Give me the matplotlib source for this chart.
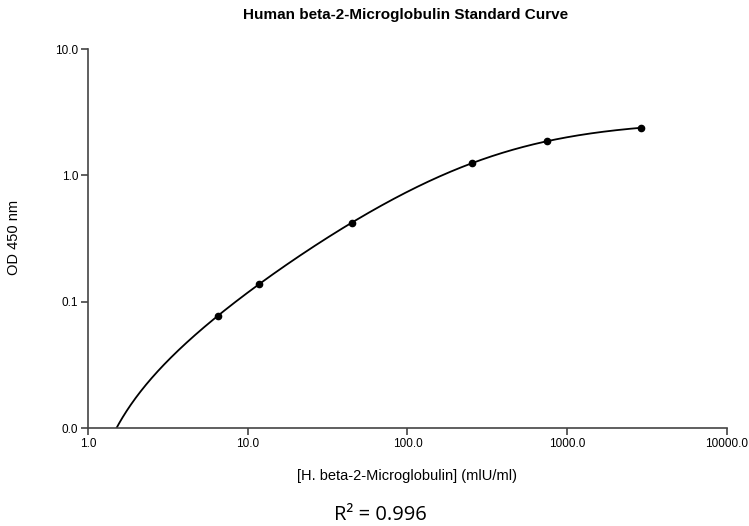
import numpy as np
import matplotlib
matplotlib.use("Agg")
import matplotlib.pyplot as plt

# standards
conc = [6.5, 11.7, 45.0, 253.0, 745.0, 2890.0]
od = [0.077, 0.138, 0.42, 1.25, 1.87, 2.37]

x_ticks = [1, 10, 100, 1000, 10000]
x_labels = ["1.0", "10.0", "100.0", "1000.0", "10000.0"]
y_ticks = [0.01, 0.1, 1, 10]
y_labels = ["0.0", "0.1", "1.0", "10.0"]

title = "Human beta-2-Microglobulin Standard Curve"
xlab = "[H. beta-2-Microglobulin] (mlU/ml)"
ylab = "OD 450 nm"
r2_text = "R² = 0.996"


def four_pl(x, p):
    a, b, c, d = p
    return d + (a - d) / (1.0 + (x / c) ** b)


def fit_4pl(x, y, p0):
    # small levenberg-marquardt, no scipy here; relative residuals
    p = np.array(p0, dtype=float)
    lam = 1e-2
    def res(p):
        return (four_pl(x, p) - y) / y
    for _ in range(3000):
        r = res(p)
        J = np.zeros((len(x), 4))
        for k in range(4):
            dp = np.zeros(4)
            dp[k] = 1e-6 * max(abs(p[k]), 1e-3)
            J[:, k] = (res(p + dp) - r) / dp[k]
        A = J.T @ J
        g = J.T @ r
        step = np.linalg.solve(A + lam * np.diag(np.diag(A)) + 1e-12 * np.eye(4), -g)
        pn = p + step
        if pn[2] > 0 and np.sum(res(pn) ** 2) < np.sum(r ** 2):
            p = pn
            lam *= 0.5
        else:
            lam *= 4
    return p


xd = np.array(conc)
yd = np.array(od)
params = fit_4pl(xd, yd, [0.0, 1.0, 300.0, 3.0])

xc = np.logspace(0, np.log10(xd.max()), 800)
yc = four_pl(xc, params)

fig = plt.figure(figsize=(7.49, 5.26), dpi=100)
ax = fig.add_axes([0.1175, 0.1863, 0.853, 0.7205])

ax.plot(xc, yc, color="black", lw=1.3)
ax.plot(xd, yd, "o", color="black", ms=4.5)

ax.set_xscale("log")
ax.set_yscale("log")
ax.set_xlim(1, 10000)
ax.set_ylim(0.01, 10)
ax.set_xticks(x_ticks)
ax.set_xticklabels(x_labels)
ax.set_yticks(y_ticks)
ax.set_yticklabels(y_labels)
ax.minorticks_off()

for s in ["top", "right"]:
    ax.spines[s].set_visible(False)
for s in ["left", "bottom"]:
    ax.spines[s].set_color("#444444")
    ax.spines[s].set_linewidth(1.2)
ax.tick_params(colors="#444444", labelcolor="black", length=5, width=1.2,
               labelsize=8.5, pad=2)
for lbl in ax.get_xticklabels() + ax.get_yticklabels():
    lbl.set_family("Liberation Sans")

fig.text(405.5 / 749, 1 - 19.5 / 526, title, fontsize=11, fontweight="bold",
         family="Liberation Sans", ha="center", va="baseline")
ax.set_xlabel(xlab, fontsize=10.5, family="Liberation Sans", labelpad=14)
fig.text(14 / 749, 1 - 237 / 526, ylab, fontsize=10.5, family="Liberation Sans",
         rotation=90, ha="center", va="center")

fig.text(380 / 749, 1.5 / 526, r2_text, fontsize=14.5, family="Open Sans",
         ha="center", va="bottom")

fig.savefig("out.png", dpi=100)
